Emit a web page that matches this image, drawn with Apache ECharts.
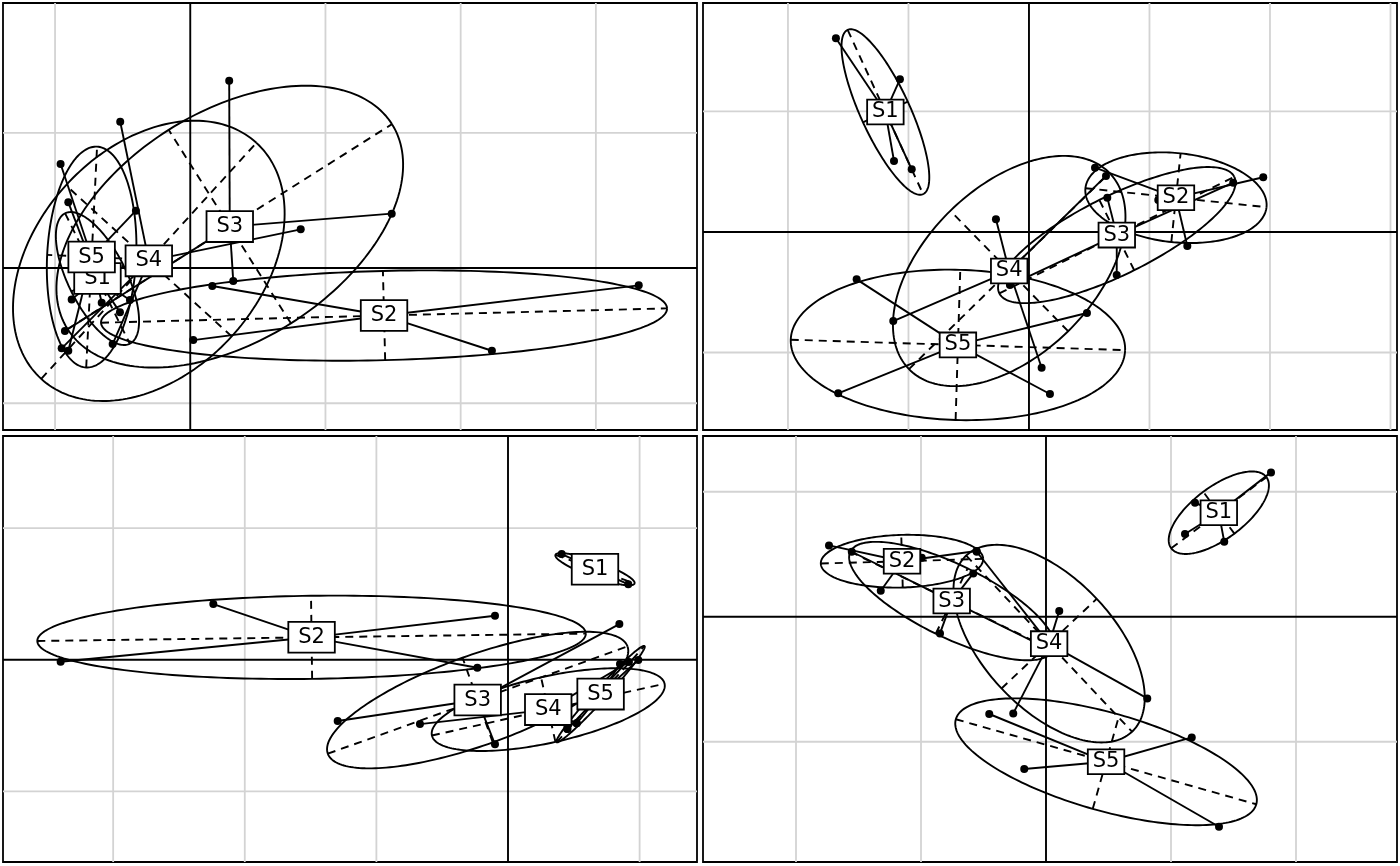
<!DOCTYPE html>
<html><head><meta charset="utf-8">
<script src="https://cdn.jsdelivr.net/npm/echarts/dist/echarts.min.js"></script>
<style>html,body{margin:0;padding:0;background:#fff}#c{width:1400px;height:866px}</style>
</head><body><div id="c"></div>
<script>
// class labels
const classNames = ['S1', 'S2', 'S3', 'S4', 'S5'];

// ---- panel 1 (top-left): [x, y] scores per class ----
const p1S1 = [[-0.902, 0.486], [-0.877, -0.232], [-0.446, -0.237], [-0.520, -0.328]];
const p1S2 = [[0.163, -0.133], [0.022, -0.533], [2.231, -0.612], [3.317, -0.128]];
const p1S3 = [[0.288, 1.385], [1.490, 0.402], [0.318, -0.096], [-0.927, -0.466]];
const p1S4 = [[-0.518, 1.082], [0.817, 0.286], [-0.951, -0.594], [-0.574, -0.562]];
const p1S5 = [[-0.959, 0.769], [-0.402, 0.424], [-0.655, -0.257], [-0.902, -0.612]];

// ---- panel 2 (top-right) ----
const p2S1 = [[-1.602, 1.607], [-1.071, 1.267], [-1.120, 0.589], [-0.973, 0.520]];
const p2S2 = [[0.548, 0.534], [1.944, 0.454], [1.314, -0.116], [1.073, 0.266]];
const p2S3 = [[0.650, 0.285], [0.728, -0.357], [-0.158, -0.440], [1.695, 0.409]];
const p2S4 = [[-0.274, 0.105], [-1.126, -0.739], [0.105, -1.126], [0.639, 0.465]];
const p2S5 = [[-1.430, -0.393], [-1.583, -1.339], [0.174, -1.344], [0.481, -0.672]];

// ---- panel 3 (bottom-left) ----
const p3S1 = [[0.408, 0.803], [0.914, 0.573], [0.532, 0.679], [0.790, 0.696]];
const p3S2 = [[-2.239, 0.423], [-3.399, -0.015], [-0.099, 0.334], [-0.233, -0.061]];
const p3S3 = [[-1.294, -0.466], [-0.099, -0.643], [0.846, 0.271], [-0.375, -0.388]];
const p3S4 = [[-0.669, -0.489], [0.919, -0.017], [0.451, -0.527], [0.522, -0.483]];
const p3S5 = [[0.851, -0.033], [0.990, -0.002], [0.451, -0.527], [0.522, -0.483]];

// ---- panel 4 (bottom-right) ----
const p4S1 = [[1.800, 1.155], [1.192, 0.912], [1.112, 0.662], [1.426, 0.600]];
const p4S2 = [[-1.736, 0.571], [-1.322, 0.208], [-0.994, 0.472], [-0.556, 0.526]];
const p4S3 = [[-1.554, 0.520], [-0.848, -0.133], [-0.582, 0.347], [-0.034, -0.232]];
const p4S4 = [[0.106, 0.046], [0.810, -0.653], [-0.262, -0.773], [-0.554, 0.520]];
const p4S5 = [[-0.454, -0.778], [-0.174, -1.218], [1.166, -0.965], [1.384, -1.680]];

const ellipseCoef = 1.5;

const panels = [
  { cls: [p1S1, p1S2, p1S3, p1S4, p1S5], xr: [-1.385, 3.748], yr: [-1.198, 1.960],
    box: { left: 3, top: 3, width: 694, height: 427 }, pad: [4, 9] },
  { cls: [p2S1, p2S2, p2S3, p2S4, p2S5], xr: [-2.705, 3.054], yr: [-1.643, 1.900],
    box: { left: 703, top: 3, width: 694, height: 427 }, pad: [1, 4] },
  { cls: [p3S1, p3S2, p3S3, p3S4, p3S5], xr: [-3.837, 1.436], yr: [-1.537, 1.700],
    box: { left: 3, top: 436, width: 694, height: 426 }, pad: [4, 9] },
  { cls: [p4S1, p4S2, p4S3, p4S4, p4S5], xr: [-2.744, 2.808], yr: [-1.962, 1.446],
    box: { left: 703, top: 436, width: 694, height: 426 }, pad: [1, 4] }
];

function stats(pts) {
  const n = pts.length;
  let mx = 0, my = 0;
  pts.forEach(p => { mx += p[0] / n; my += p[1] / n; });
  let a = 0, b = 0, c = 0;
  pts.forEach(p => { const dx = p[0] - mx, dy = p[1] - my; a += dx * dx / n; b += dx * dy / n; c += dy * dy / n; });
  const tr = (a + c) / 2, d = Math.sqrt(((a - c) / 2) ** 2 + b * b);
  const l1 = tr + d, l2 = Math.max(tr - d, 0);
  let v1;
  if (Math.abs(b) > 1e-12) { v1 = [l1 - c, b]; } else { v1 = a >= c ? [1, 0] : [0, 1]; }
  const nn = Math.hypot(v1[0], v1[1]); v1 = [v1[0] / nn, v1[1] / nn];
  const v2 = [-v1[1], v1[0]];
  return { mx, my, r1: ellipseCoef * Math.sqrt(l1), r2: ellipseCoef * Math.sqrt(l2), v1, v2 };
}

const grids = [], xAxes = [], yAxes = [], series = [];
const LW = 1.9;

panels.forEach((p, i) => {
  grids.push({ left: p.box.left, top: p.box.top, width: p.box.width, height: p.box.height,
    show: true, borderColor: '#000', borderWidth: 1.8, backgroundColor: 'transparent' });
  xAxes.push({ type: 'value', gridIndex: i, min: p.xr[0], max: p.xr[1], show: false });
  yAxes.push({ type: 'value', gridIndex: i, min: p.yr[0], max: p.yr[1], show: false });

  // grid lines at integer positions + zero axes
  const lines = [];
  for (let k = Math.ceil(p.xr[0]); k <= Math.floor(p.xr[1]); k++) lines.push([0, k]);
  for (let k = Math.ceil(p.yr[0]); k <= Math.floor(p.yr[1]); k++) lines.push([1, k]);
  lines.sort((u, v) => (u[1] === 0 ? 1 : 0) - (v[1] === 0 ? 1 : 0));
  series.push({
    type: 'custom', xAxisIndex: i, yAxisIndex: i, silent: true, z: 1, clip: true,
    data: lines,
    renderItem: (params, api) => {
      const o = api.value(0), v = api.value(1);
      const a = o === 0 ? api.coord([v, p.yr[0]]) : api.coord([p.xr[0], v]);
      const b = o === 0 ? api.coord([v, p.yr[1]]) : api.coord([p.xr[1], v]);
      return { type: 'line', shape: { x1: a[0], y1: a[1], x2: b[0], y2: b[1] },
        style: { stroke: v === 0 ? '#000' : '#d3d3d3', lineWidth: v === 0 ? 1.9 : 1.8 } };
    }
  });

  const st = p.cls.map(stats);

  // ellipses and their axes
  series.push({
    type: 'custom', xAxisIndex: i, yAxisIndex: i, silent: true, z: 2, clip: true,
    data: st.map((s, j) => [s.mx, s.my, j]),
    renderItem: (params, api) => {
      const s = st[api.value(2)];
      const pts = [];
      for (let t = 0; t <= 200; t++) {
        const ang = t / 200 * Math.PI * 2;
        const ca = Math.cos(ang) * s.r1, sa = Math.sin(ang) * s.r2;
        pts.push(api.coord([s.mx + ca * s.v1[0] + sa * s.v2[0], s.my + ca * s.v1[1] + sa * s.v2[1]]));
      }
      const ax = (v, r) => {
        const a = api.coord([s.mx - v[0] * r, s.my - v[1] * r]);
        const b = api.coord([s.mx + v[0] * r, s.my + v[1] * r]);
        return { type: 'line', shape: { x1: a[0], y1: a[1], x2: b[0], y2: b[1] },
          style: { stroke: '#000', lineWidth: LW, lineDash: [8, 6], fill: null } };
      };
      return { type: 'group', children: [
        { type: 'polyline', shape: { points: pts }, style: { stroke: '#000', lineWidth: LW, fill: null } },
        ax(s.v1, s.r1), ax(s.v2, s.r2)
      ] };
    }
  });

  // star lines from centroid to each point
  const star = [];
  p.cls.forEach((pts, j) => pts.forEach(q => star.push([st[j].mx, st[j].my, q[0], q[1]])));
  series.push({
    type: 'custom', xAxisIndex: i, yAxisIndex: i, silent: true, z: 3, clip: true,
    data: star,
    renderItem: (params, api) => {
      const a = api.coord([api.value(0), api.value(1)]);
      const b = api.coord([api.value(2), api.value(3)]);
      return { type: 'line', shape: { x1: a[0], y1: a[1], x2: b[0], y2: b[1] },
        style: { stroke: '#000', lineWidth: LW } };
    }
  });

  // points
  series.push({
    type: 'scatter', xAxisIndex: i, yAxisIndex: i, silent: true, z: 4,
    symbol: 'circle', symbolSize: 8, itemStyle: { color: '#000', opacity: 1 },
    data: [].concat(...p.cls)
  });

  // class labels at centroids
  series.push({
    type: 'scatter', xAxisIndex: i, yAxisIndex: i, silent: true, z: 5,
    symbolSize: 0, itemStyle: { opacity: 1 },
    data: st.map((s, j) => ({ name: classNames[j], value: [s.mx, s.my] })),
    label: { show: true, position: 'inside', formatter: '{b}', color: '#000', opacity: 1,
      fontFamily: 'DejaVu Sans', fontSize: 21, lineHeight: 21,
      backgroundColor: '#fff', borderColor: '#000', borderWidth: 1.8, padding: p.pad }
  });
});

const chart = echarts.init(document.getElementById('c'), null, { renderer: 'canvas' });
chart.setOption({ animation: false, backgroundColor: '#fff', grid: grids, xAxis: xAxes, yAxis: yAxes, series: series });
</script>
</body></html>
